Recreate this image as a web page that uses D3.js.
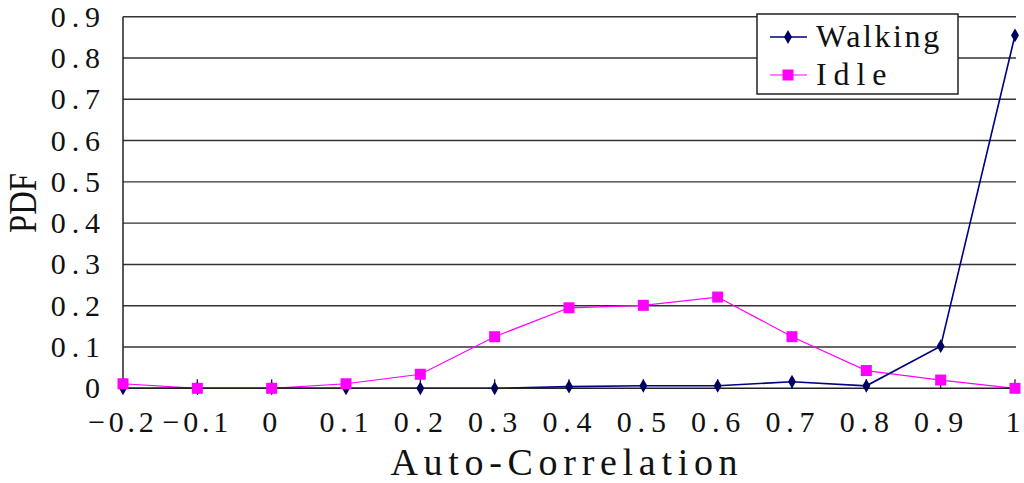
<!DOCTYPE html>
<html lang="en">
<head>
<meta charset="UTF-8">
<title>PDF of Auto-Correlation</title>
<script src="https://cdnjs.cloudflare.com/ajax/libs/d3/7.8.5/d3.min.js"></script>
<style>
    body { margin: 0; background: #fff; }
    text { font-family: "Liberation Serif", "DejaVu Serif", serif; fill: #111; }
</style>
</head>
<body>
<svg id="chart" width="1024" height="483"></svg>
<script>
    const categories = ["-0.2", "-0.1", "0", "0.1", "0.2", "0.3", "0.4", "0.5", "0.6", "0.7", "0.8", "0.9", "1"];
    const walking = [0, 0, 0, 0, 0, 0, 0.004, 0.006, 0.006, 0.016, 0.006, 0.102, 0.855];
    const idle = [0.011, 0, 0, 0.011, 0.034, 0.125, 0.195, 0.201, 0.221, 0.125, 0.043, 0.02, 0];
    const yTicks = [0, 0.1, 0.2, 0.3, 0.4, 0.5, 0.6, 0.7, 0.8, 0.9];
    const seriesNames = ["Walking", "Idle"];

    const svg = d3.select("#chart");
    const plotLeft = 123, plotRight = 1015, plotTop = 16.7, plotBottom = 388.3;

    const x = d3.scalePoint().domain(categories).range([plotLeft, plotRight]);
    const y = d3.scaleLinear().domain([0, 0.9]).range([plotBottom, plotTop]);

    // monospace-like spacing, the source font has fixed cells
    function mono(sel, cell) {
        sel.each(function() {
            const t = d3.select(this);
            const n = t.text().length;
            if (n > 1) t.attr("textLength", n * cell).attr("lengthAdjust", "spacing");
        });
    }
    const fmt = v => v < 0 ? "\u2212" + (-v) : String(v);

    // grid lines
    svg.append("g").selectAll("line")
        .data(yTicks.filter(d => d > 0))
        .enter().append("line")
        .attr("x1", plotLeft).attr("x2", plotRight + 1)
        .attr("y1", d => y(d)).attr("y2", d => y(d))
        .style("stroke", "#333").style("stroke-width", 1.4);

    // y tick labels
    svg.append("g").selectAll("text")
        .data(yTicks)
        .enter().append("text")
        .attr("x", 100).attr("y", d => y(d) + 10)
        .attr("text-anchor", "end")
        .style("font-size", "30px")
        .text(d => String(d))
        .call(mono, 16.4);

    // series
    const line = d3.line().x((d, i) => x(categories[i])).y(d => y(d));

    svg.append("path").datum(idle)
        .attr("d", line)
        .style("fill", "none").style("stroke", "#FF00FF").style("stroke-width", 1.2);
    svg.append("path").datum(walking)
        .attr("d", line)
        .style("fill", "none").style("stroke", "#000080").style("stroke-width", 1.6);

    // axes over the zero line
    svg.append("line")
        .attr("x1", plotLeft).attr("x2", plotRight + 1).attr("y1", plotBottom).attr("y2", plotBottom)
        .style("stroke", "#222").style("stroke-width", 1.5);
    svg.append("line")
        .attr("x1", plotLeft).attr("x2", plotLeft).attr("y1", plotTop).attr("y2", plotBottom)
        .style("stroke", "#222").style("stroke-width", 1.5);
    svg.append("g").selectAll("line")
        .data(categories)
        .enter().append("line")
        .attr("x1", d => x(d)).attr("x2", d => x(d))
        .attr("y1", plotBottom).attr("y2", plotBottom - 9)
        .style("stroke", "#222").style("stroke-width", 1.3);

    const diamond = d3.symbol().type(d3.symbolDiamond).size(55);
    svg.append("g").selectAll("path")
        .data(walking)
        .enter().append("path")
        .attr("d", diamond)
        .attr("transform", (d, i) => `translate(${x(categories[i])},${y(d)})`)
        .style("fill", "#000060");

    svg.append("g").selectAll("rect")
        .data(idle)
        .enter().append("rect")
        .attr("x", (d, i) => x(categories[i]) - 5.5)
        .attr("y", d => y(d) - 5.5)
        .attr("width", 11).attr("height", 11)
        .style("fill", "#FF00FF");

    // x tick labels
    svg.append("g").selectAll("text")
        .data(categories)
        .enter().append("text")
        .attr("x", d => x(d) - 2).attr("y", plotBottom + 44)
        .attr("text-anchor", "middle")
        .style("font-size", "30px")
        .text(d => fmt(+d))
        .call(mono, 16.4);

    // axis titles
    svg.append("text")
        .attr("x", 564).attr("y", 475)
        .attr("text-anchor", "middle")
        .style("font-size", "38px")
        .text("Auto-Correlation")
        .call(mono, 21.7);

    svg.append("text")
        .attr("transform", "translate(36,203) rotate(-90)")
        .attr("text-anchor", "middle")
        .style("font-size", "40px")
        .attr("textLength", 60).attr("lengthAdjust", "spacingAndGlyphs")
        .text("PDF");

    // legend
    const lg = svg.append("g");
    lg.append("rect")
        .attr("x", 757).attr("y", 14).attr("width", 201).attr("height", 80)
        .style("fill", "#fff").style("stroke", "#222").style("stroke-width", 1.5);
    const colors = ["#000080", "#FF00FF"];
    seriesNames.forEach((name, i) => {
        const cy = 37 + i * 38;
        lg.append("line")
            .attr("x1", 770).attr("x2", 807).attr("y1", cy).attr("y2", cy)
            .style("stroke", colors[i]).style("stroke-width", i === 0 ? 1.6 : 1.2);
        if (i === 0) {
            lg.append("path").attr("d", diamond)
                .attr("transform", `translate(788,${cy})`).style("fill", "#000060");
        } else {
            lg.append("rect").attr("x", 782.5).attr("y", cy - 5.5)
                .attr("width", 11).attr("height", 11).style("fill", "#FF00FF");
        }
        lg.append("text")
            .attr("x", 816).attr("y", cy + 10)
            .style("font-size", "32px")
            .text(name)
            .call(mono, 17.6);
    });
</script>
</body>
</html>
